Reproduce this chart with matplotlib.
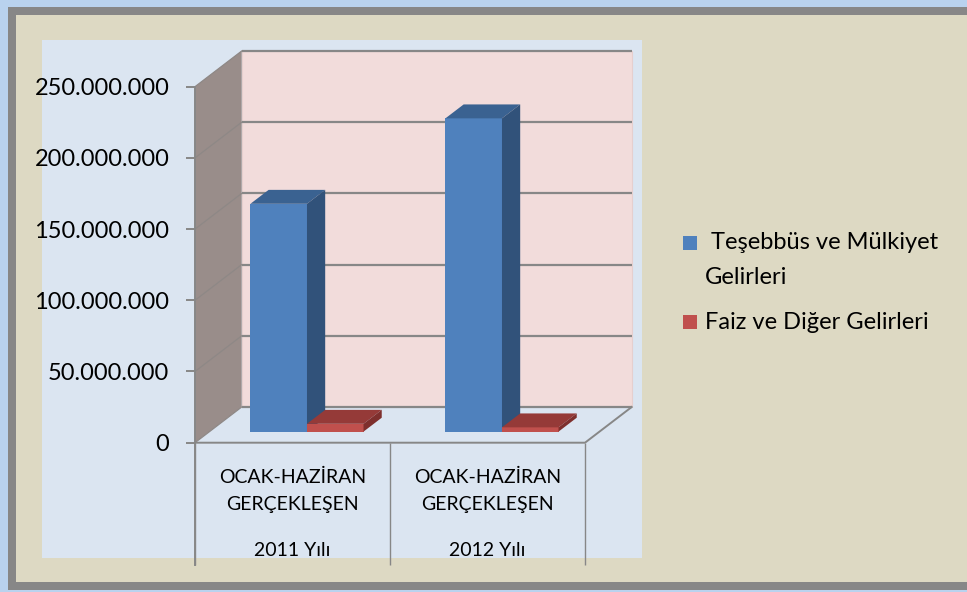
import numpy as np
import matplotlib
matplotlib.use("Agg")
import matplotlib.pyplot as plt
from matplotlib.patches import Rectangle, Polygon

plt.rcParams['font.family'] = ['Lato', 'DejaVu Sans']

# data
categories = ["OCAK-HAZİRAN\nGERÇEKLEŞEN", "OCAK-HAZİRAN\nGERÇEKLEŞEN"]
years = ["2011 Yılı", "2012 Yılı"]
series_names = [" Teşebbüs ve Mülkiyet\nGelirleri", "Faiz ve Diğer Gelirleri"]
tesebbus = [160e6, 220e6]
faiz = [5.5e6, 3.0e6]
yticks = [0, 50e6, 100e6, 150e6, 200e6, 250e6]

# colours: front, top, side
blue = ("#4F81BD", "#3A6291", "#31527A")
red = ("#C0504D", "#953A38", "#7E2F2D")
grid_c = "#878787"

W, H = 967, 592
fig = plt.figure(figsize=(W / 100, H / 100), dpi=100, facecolor="#B9D2EE")

def px_rect(x0, y0, x1, y1, color, z=0):
    fig.patches.append(Rectangle((x0 / W, 1 - y1 / H), (x1 - x0) / W, (y1 - y0) / H,
                                 transform=fig.transFigure, facecolor=color,
                                 edgecolor="none", zorder=z))

px_rect(8, 7, 990, 590, "#878787", z=-3)
px_rect(16, 15, 990, 582, "#DDD9C3", z=-2)
px_rect(42, 40, 642, 558, "#DBE5F1", z=-1)

# projection set-up (pixels)
x0_px, unit_px = 195, 195.0
y0_px, px_per_val = 442.7, 71.2 / 50e6
ddx = 46.7 / unit_px
ddy = 35.7 / px_per_val
left_px, right_px, top_px, bottom_px = 195, 645, 45, 570

ax = fig.add_axes([left_px / W, 1 - bottom_px / H, (right_px - left_px) / W,
                   (bottom_px - top_px) / H])
ax.set_facecolor("none")
ax.set_xlim(-0.5, -0.5 + (right_px - left_px) / unit_px)
ax.set_ylim((y0_px - bottom_px) / px_per_val, (y0_px - top_px) / px_per_val)

n = len(categories)
xl, xr = -0.5, n - 0.5
ytop = yticks[-1]

# walls and floor
ax.add_patch(Polygon([(xl, 0), (xl, ytop), (xl + ddx, ytop + ddy), (xl + ddx, ddy)],
                     facecolor="#998D8A", edgecolor="none", zorder=1))
ax.add_patch(Polygon([(xl + ddx, ddy), (xl + ddx, ytop + ddy), (xr + ddx, ytop + ddy), (xr + ddx, ddy)],
                     facecolor="#F2DCDB", edgecolor="#E6CFCE", lw=0.8, zorder=1))
ax.add_patch(Polygon([(xl, 0), (xr, 0), (xr + ddx, ddy), (xl + ddx, ddy)],
                     facecolor="#DBE5F1", edgecolor="none", zorder=1))
for v in yticks:
    ax.plot([xl + ddx, xr + ddx], [v + ddy, v + ddy], color=grid_c, lw=1.6, zorder=2,
            solid_capstyle="butt")
    ax.plot([xl, xl + ddx], [v, v + ddy], color="#8E8886", lw=0.9, zorder=2)
ax.plot([xl, xr, xr + ddx], [0, 0, ddy], color=grid_c, lw=1.4, zorder=2)

# bars
bw = 0.29
d0, dd = 0.31, 0.39
ox, oy = d0 * ddx, d0 * ddy
bdx, bdy = dd * ddx, dd * ddy
x = np.arange(n)
for i in range(n):
    for s, (vals, cols) in enumerate([(tesebbus, blue), (faiz, red)]):
        xs = x[i] - bw + s * bw + ox
        v = vals[i]
        ax.bar(xs, v, width=bw, bottom=oy, align="edge", color=cols[0],
               edgecolor="none", zorder=3 + i * 2 + s * 0.5)
        top = oy + v
        ax.add_patch(Polygon([(xs, top), (xs + bw, top), (xs + bw + bdx, top + bdy),
                              (xs + bdx, top + bdy)], facecolor=cols[1],
                             edgecolor="none", zorder=3.1 + i * 2 + s * 0.5))
        ax.add_patch(Polygon([(xs + bw, oy), (xs + bw + bdx, oy + bdy),
                              (xs + bw + bdx, top + bdy), (xs + bw, top)],
                             facecolor=cols[2], edgecolor="none",
                             zorder=3.1 + i * 2 + s * 0.5))

# axes / ticks
for sp in ["top", "right", "bottom"]:
    ax.spines[sp].set_visible(False)
ax.spines["left"].set_color(grid_c)
ax.spines["left"].set_linewidth(1.4)
ax.spines["left"].set_bounds(ax.get_ylim()[0] + 5 / px_per_val, ytop)
ax.set_xticks([])
ax.set_yticks(yticks)
ax.set_yticklabels([f"{v:,.0f}".replace(",", ".") for v in yticks], fontsize=17)
ax.tick_params(axis="y", length=6.5, width=1.4, color=grid_c, pad=12)

# category table
ybot = ax.get_ylim()[0] + 5 / px_per_val
ax.vlines(np.arange(n + 1) - 0.5, ybot, 0, color=grid_c, lw=1.0)
for i in range(n):
    ax.text(x[i], -33.6e6, categories[i], ha="center", va="center", fontsize=14,
            linespacing=1.7)
    ax.text(x[i], -76e6, years[i], ha="center", va="center", fontsize=14)

# legend
for k, (name, col) in enumerate(zip(series_names, [blue[0], red[0]])):
    sy = [236, 315][k]
    px_rect(683, sy, 697, sy + 14, col, z=2)
    cy = [260, 322][k]
    fig.text(705 / W, 1 - cy / H, name, ha="left", va="center", fontsize=17,
             linespacing=1.78)

fig.savefig("out.png", dpi=100, facecolor=fig.get_facecolor())
